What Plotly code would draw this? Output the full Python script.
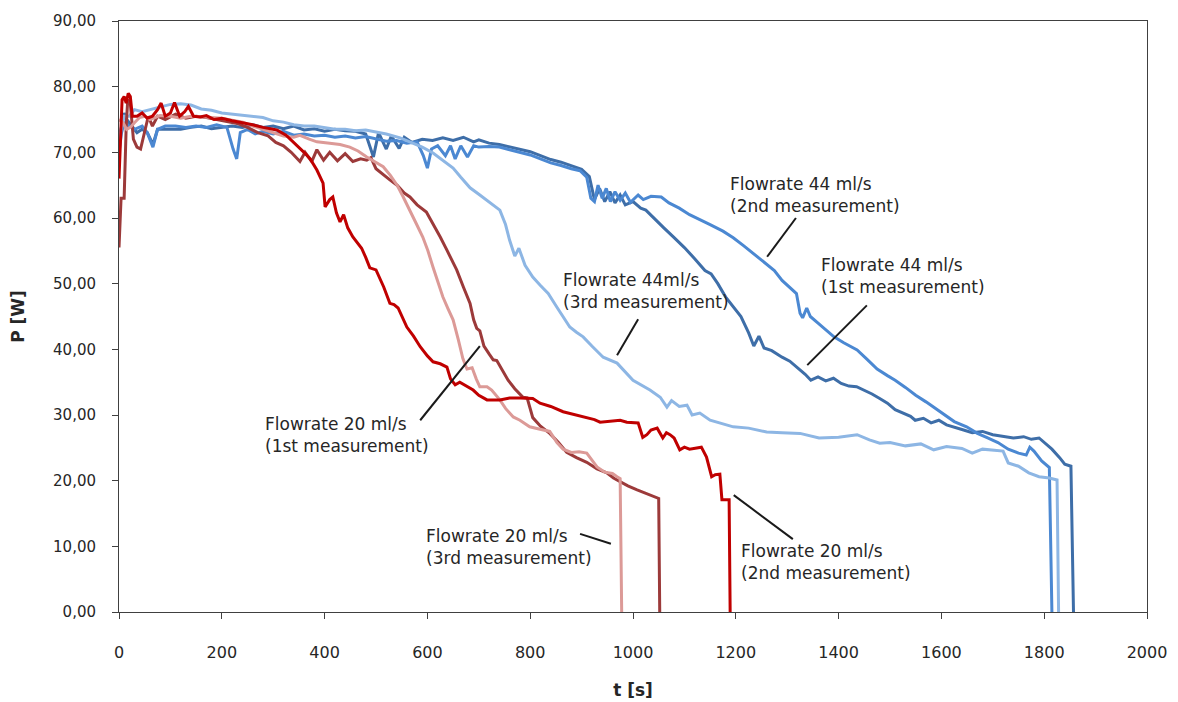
import plotly.graph_objects as go

# ---------------- data ----------------
# Flowrate 44 ml/s, 1st measurement
t_44_1 = [0, 5, 10, 15, 25, 35, 45, 55, 66, 75, 90, 100, 120, 140, 160, 180, 200, 220, 240, 260,
          280, 300, 320, 340, 360, 380, 400, 420, 440, 460, 480, 495, 505, 520, 530, 545, 555, 570,
          590, 610, 630, 650, 670, 690, 700, 720, 740, 760, 780, 800, 820, 840, 860, 880, 900, 915,
          925, 935, 945, 955, 965, 975, 985, 1000, 1015, 1025, 1040, 1060, 1080, 1100, 1120, 1140,
          1152, 1165, 1180, 1195, 1210, 1225, 1235, 1245, 1255, 1270, 1290, 1305, 1320, 1335, 1346,
          1360, 1375, 1390, 1405, 1420, 1435, 1450, 1465, 1480, 1495, 1510, 1525, 1540, 1549, 1565,
          1580, 1595, 1610, 1625, 1640, 1660, 1680, 1700, 1720, 1740, 1760, 1775, 1790, 1800, 1815,
          1830, 1840, 1852, 1857]
p_44_1 = [72, 74, 76, 75, 74, 73, 73.5, 73, 71.2, 73.5, 73.5, 73.5, 73.5, 73.8, 74, 73.6, 73.8, 74,
          73.8, 74.2, 73.8, 74, 73.6, 74, 73.4, 73.6, 73.2, 73.5, 73.3, 73.2, 72.8, 69.3, 73, 70.5,
          72.5, 70.6, 72.3, 71.5, 72, 71.8, 72.2, 71.8, 72.3, 71.6, 71.9, 71.4, 71.2, 70.8, 70.5,
          70.1, 69.5, 68.9, 68.5, 68, 67.4, 66.3, 62.8, 64.5, 62.5, 64, 62.3, 63.5, 62, 62.5, 61.5,
          61.2, 60, 58.5, 57, 55.5, 53.8, 52, 51.5, 50, 48, 46.5, 45, 42.5, 40.5, 42, 40.2, 39.8,
          38.8, 38.2, 37.2, 36.2, 35.3, 35.8, 35.2, 35.6, 34.8, 34.4, 34.3, 33.8, 33.2, 32.5, 31.8,
          30.8, 30.3, 29.8, 29.2, 29.5, 28.8, 29.2, 28.5, 28.2, 27.8, 27.3, 27.5, 27, 26.8, 26.5,
          26.7, 26.3, 26.5, 25.8, 24.8, 23.5, 22.5, 22.2, 0]

# Flowrate 44 ml/s, 2nd measurement
t_44_2 = [0, 5, 10, 20, 30, 45, 55, 66, 75, 90, 110, 130, 150, 170, 190, 210, 222, 229, 236, 250,
          265, 280, 300, 320, 340, 360, 380, 400, 420, 440, 460, 480, 500, 520, 540, 560, 580, 592,
          600, 608, 620, 635, 645, 654, 665, 678, 690, 700, 720, 740, 760, 780, 800, 820, 840, 860,
          880, 897, 910, 918, 925, 932, 940, 948, 956, 965, 975, 985, 995, 1010, 1020, 1035, 1055,
          1070, 1090, 1110, 1130, 1150, 1175, 1195, 1215, 1235, 1257, 1275, 1290, 1305, 1318, 1325,
          1330, 1338, 1345, 1360, 1375, 1391, 1410, 1436, 1455, 1475, 1495, 1510, 1530, 1550, 1570,
          1585, 1605, 1625, 1649, 1670, 1690, 1710, 1730, 1750, 1765, 1772, 1780, 1795, 1810, 1815]
p_44_2 = [70, 73, 74.5, 74, 73.5, 74, 73, 70.8, 73.5, 74, 74, 73.8, 74, 73.8, 74.2, 73.8, 70.5, 69,
          73, 73.5, 72.8, 73.2, 72.8, 73.2, 72.6, 72.8, 72.5, 72.6, 72.3, 72.5, 72.2, 72.4, 72, 71.7,
          71.8, 71.4, 71.6, 69.5, 67.6, 70.5, 71, 69.5, 71, 69, 71, 69.3, 71, 70.8, 70.9, 70.8, 70.4,
          70, 69.6, 69, 68.4, 68, 67.5, 67.2, 66.2, 63, 62.5, 65, 63, 64.5, 62.5, 64, 62.7, 63.8,
          62.4, 63.5, 62.8, 63.3, 63.2, 62.3, 61.5, 60.5, 59.8, 59, 58, 57, 55.8, 54.5, 53.2, 52,
          50.5, 49.5, 48.5, 45.5, 44.8, 46.3, 45, 44, 43, 41.9, 41, 39.9, 38.5, 37, 36, 35.3, 34.2,
          33, 32, 31.2, 30, 29, 28.2, 27.2, 26.5, 25.8, 24.8, 24.2, 23.9, 25.1, 24.5, 23, 22, 0]

# Flowrate 44 ml/s, 3rd measurement
t_44_3 = [0, 5, 10, 20, 30, 45, 60, 80, 100, 120, 140, 160, 180, 200, 220, 240, 260, 280, 300, 320,
          340, 360, 380, 400, 420, 440, 460, 480, 500, 520, 547, 570, 590, 611, 630, 650, 665, 683,
          702, 720, 741, 752, 760, 770, 778, 790, 805, 819, 835, 852, 877, 890, 903, 920, 942, 969,
          985, 1000, 1033, 1053, 1066, 1075, 1090, 1105, 1115, 1130, 1150, 1169, 1195, 1225, 1260,
          1290, 1325, 1362, 1400, 1436, 1460, 1480, 1500, 1530, 1560, 1585, 1610, 1640, 1660, 1680,
          1700, 1720, 1730, 1750, 1770, 1790, 1810, 1825, 1828]
p_44_3 = [72, 74, 75.5, 75.5, 76.5, 76.2, 76.5, 77, 77.3, 77.4, 77.2, 76.6, 76.4, 76, 75.8, 75.6,
          75.5, 75.3, 74.8, 74.6, 74.2, 74, 74, 73.7, 73.5, 73.5, 73.3, 73.4, 73.1, 72.8, 72.2, 71.5,
          70.8, 69.9, 68.8, 67.6, 66.2, 64.6, 63.5, 62.5, 61.2, 59, 56.6, 54.2, 55.4, 52.8, 51, 49.8,
          48.5, 46.4, 43.4, 42.6, 41.9, 40.5, 38.8, 37.9, 36.5, 35.3, 33.8, 32.7, 31.2, 32.2, 31.3,
          31.5, 30, 30.3, 29.2, 28.8, 28.2, 28, 27.4, 27.3, 27.2, 26.5, 26.6, 27, 26.2, 25.7, 25.8,
          25.3, 25.6, 24.7, 25.2, 24.9, 24.2, 24.8, 24.7, 24.5, 22.7, 22.2, 21.2, 20.6, 20.4, 20.1, 0]

# Flowrate 20 ml/s, 1st measurement
t_20_1 = [0, 4, 10, 14, 17, 22, 28, 35, 42, 50, 57, 65, 75, 90, 110, 130, 150, 170, 190, 210, 230,
          250, 270, 290, 305, 320, 335, 352, 362, 375, 385, 398, 410, 425, 440, 455, 470, 482, 490,
          500, 515, 527, 541, 555, 566, 580, 598, 612, 625, 638, 650, 657, 670, 683, 690, 696, 702,
          710, 720, 728, 735, 745, 757, 770, 786, 794, 800, 805, 820, 838, 855, 871, 890, 910, 930,
          949, 962, 975, 990, 1008, 1025, 1040, 1050, 1052]
p_20_1 = [55.5, 63, 63, 74, 78, 77.5, 72, 70.8, 70.5, 73, 75.5, 74, 75.5, 75, 75.8, 75.2, 75.5,
          75.3, 75, 74.8, 74.4, 73.8, 73, 72.5, 71.5, 71, 70, 68.6, 70, 68.6, 70.4, 68.8, 70, 68.7,
          69.8, 68.6, 69, 68.8, 69.2, 67.5, 66.5, 65.8, 65, 63.8, 63.2, 62, 60.9, 59, 57.1, 55.1,
          53.3, 52.1, 49.5, 47, 44.5, 43.2, 42.8, 40.5, 39.3, 38.4, 38.3, 37, 35.3, 34, 32.7, 32.6,
          31, 29.6, 28.3, 27.2, 25.8, 24.3, 23.5, 22.8, 21.8, 21.2, 20.4, 19.8, 19.2, 18.6, 18.1,
          17.6, 17.3, 0]

# Flowrate 20 ml/s, 2nd measurement
t_20_2 = [0, 3, 6, 10, 14, 18, 22, 26, 35, 45, 55, 65, 75, 82, 90, 100, 108, 118, 128, 135, 145,
          158, 170, 185, 200, 220, 241, 260, 280, 307, 325, 346, 360, 372, 385, 397, 401, 410, 416,
          423, 430, 437, 445, 455, 465, 472, 480, 488, 500, 515, 527, 535, 543, 552, 560, 573, 586,
          600, 611, 625, 638, 645, 654, 663, 675, 689, 700, 716, 741, 760, 780, 794, 805, 819, 840,
          864, 890, 910, 925, 936, 955, 975, 988, 1000, 1010, 1019, 1027, 1035, 1047, 1058, 1065,
          1072, 1080, 1091, 1100, 1110, 1124, 1133, 1143, 1153, 1160, 1169, 1173, 1182, 1187, 1189]
p_20_2 = [66, 72, 78, 78.5, 77.5, 79, 78.5, 75.5, 75.5, 76, 75.2, 75.5, 76.5, 77.5, 75.5, 76, 77.6,
          75.5, 76.2, 77, 75.5, 75.4, 75.6, 75, 75.2, 74.8, 74.5, 74.2, 73.8, 73.4, 72.6, 71.1, 70,
          69, 67.3, 65.3, 61.7, 62.8, 63.2, 60.8, 59.4, 60.5, 58.5, 57.1, 56, 55.4, 54, 52.4, 52.1,
          49.5, 47, 46.8, 46.3, 44.8, 43.4, 42, 40.4, 39, 38.1, 37.8, 37.3, 35.5, 34.6, 35, 34.4,
          33.8, 33, 32.3, 32.3, 32.6, 32.6, 32.6, 32.5, 31.8, 31.3, 30.5, 30, 29.7, 29.3, 28.9, 29.1,
          29.2, 28.9, 28.8, 28.8, 26.6, 27, 27.7, 28, 26.5, 27.3, 27, 26.5, 24.7, 25.1, 24.8, 25,
          25.1, 23.6, 20.6, 20.9, 21, 17.1, 17.1, 17.1, 0]

# Flowrate 20 ml/s, 3rd measurement
t_20_3 = [0, 8, 15, 22, 30, 40, 50, 60, 80, 100, 120, 140, 160, 180, 200, 220, 241, 260, 280, 300,
          320, 340, 352, 370, 385, 410, 430, 449, 465, 482, 500, 514, 528, 541, 553, 566, 578, 591,
          601, 611, 620, 630, 640, 650, 660, 669, 677, 687, 695, 702, 716, 725, 741, 752, 760, 767,
          780, 799, 815, 838, 852, 864, 880, 895, 910, 930, 945, 960, 969, 975, 978]
p_20_3 = [75, 74.5, 73.5, 73.8, 74.5, 75.3, 75.5, 75, 75.6, 75.5, 75.2, 75.5, 75.4, 75.3, 75.2,
          74.9, 74.6, 74, 73.5, 73, 72.5, 72.3, 72.6, 72, 71.6, 71.4, 71.2, 70.8, 70.2, 69.3, 68.5,
          67.8, 66.5, 65, 63.2, 61.2, 59.2, 57.1, 55, 52.5, 50.3, 48, 46.2, 44.5, 41.5, 38.6, 37,
          37.2, 35.5, 34.3, 34.3, 33.8, 32.3, 31, 30.3, 29.7, 29.2, 28.2, 27.9, 27.5, 25.8, 24.8,
          24.3, 24.4, 24.2, 22.1, 21.3, 21.1, 20.6, 20.3, 0]

series = [
    ("Flowrate 44 ml/s (1st)", t_44_1, p_44_1, "#3E6EA8"),
    ("Flowrate 44 ml/s (2nd)", t_44_2, p_44_2, "#4B88D2"),
    ("Flowrate 44 ml/s (3rd)", t_44_3, p_44_3, "#8DB6E4"),
    ("Flowrate 20 ml/s (1st)", t_20_1, p_20_1, "#9C3A3A"),
    ("Flowrate 20 ml/s (3rd)", t_20_3, p_20_3, "#DC9A97"),
    ("Flowrate 20 ml/s (2nd)", t_20_2, p_20_2, "#C00000"),
]

# annotation labels: text, text anchor (t, P), leader line (t0, P0, t1, P1)
labels = [
    ("Flowrate 44 ml/s<br>(2nd measurement)", 1185, 63.5, 1317, 60.0, 1261, 54.1),
    ("Flowrate 44 ml/s<br>(1st measurement)", 1362, 51.2, 1455, 46.7, 1339, 37.6),
    ("Flowrate 44ml/s<br>(3rd measurement)", 860, 48.9, 1010, 44.6, 969, 39.1),
    ("Flowrate 20 ml/s<br>(1st measurement)", 280, 26.9, 702, 40.5, 586, 29.2),
    ("Flowrate 20 ml/s<br>(3rd measurement)", 593, 9.9, 897, 11.9, 957, 10.4),
    ("Flowrate 20 ml/s<br>(2nd measurement)", 1206, 7.6, 1196, 17.8, 1311, 11.1),
]

x_ticks = list(range(0, 2001, 200))
y_ticks = list(range(0, 91, 10))

# ---------------- figure ----------------
fig = go.Figure()
for name, t, p, color in series:
    fig.add_trace(go.Scatter(x=t, y=p, mode="lines", name=name,
                             line=dict(color=color, width=3), showlegend=False))

for text, tx, ty, x0, y0, x1, y1 in labels:
    fig.add_annotation(x=tx, y=ty, xref="x", yref="y", text=text, showarrow=False,
                       xanchor="left", yanchor="middle", align="left",
                       font=dict(family="DejaVu Sans", size=17, color="#262626"))
    fig.add_shape(type="line", xref="x", yref="y", x0=x0, y0=y0, x1=x1, y1=y1,
                  line=dict(color="#1a1a1a", width=2))

fig.update_layout(
    width=1178, height=702,
    margin=dict(l=111, r=39, t=13, b=98),
    paper_bgcolor="white", plot_bgcolor="white",
    separators=", ",
    font=dict(family="DejaVu Sans", size=15, color="#262626"),
)
fig.update_xaxes(range=[0, 2000], tickvals=x_ticks, ticktext=[str(v) for v in x_ticks],
                 ticks="outside", ticklen=6, tickcolor="#404040", ticklabelstandoff=20,
                 tickfont=dict(size=16),
                 showline=True, linecolor="#404040", linewidth=1, mirror=True,
                 showgrid=False, zeroline=False, automargin=False,
                 title=dict(text="<b>t [s]</b>", font=dict(size=17), standoff=22))
fig.update_yaxes(range=[0, 90], tickvals=y_ticks, tickformat=".2f",
                 ticks="outside", ticklen=6, tickcolor="#404040", ticklabelstandoff=13,
                 tickfont=dict(size=15),
                 showline=True, linecolor="#404040", linewidth=1, mirror=True,
                 showgrid=False, zeroline=False, automargin=False,
                 title=dict(text="<b>P [W]</b>", font=dict(size=17), standoff=26))

fig.write_html("out.html")
